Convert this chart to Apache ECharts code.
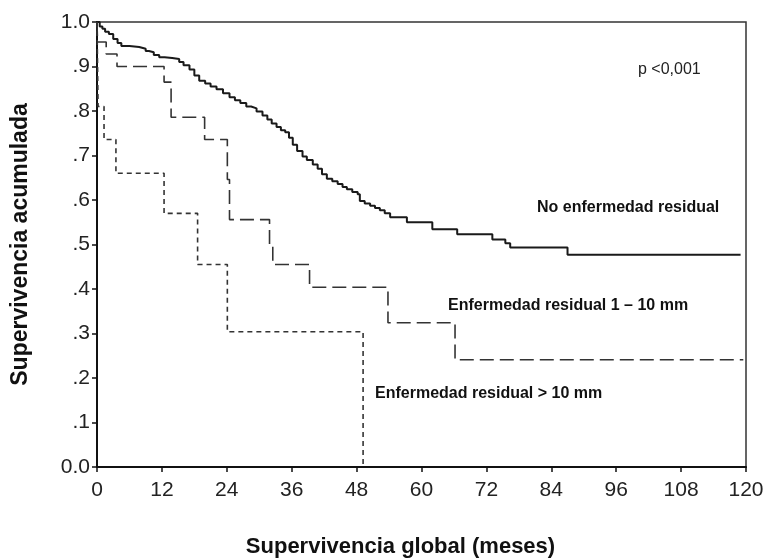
<!DOCTYPE html>
<html>
<head>
<meta charset="utf-8">
<script src="https://cdn.jsdelivr.net/npm/echarts@6/dist/echarts.min.js"></script>
<style>
  html, body { margin: 0; padding: 0; background: #fff; }
  #main { width: 766px; height: 558px; }
</style>
</head>
<body>
<div id="main"></div>
<script>
// curva Kaplan-Meier: [mes, supervivencia]
var sinResidual = [
    [0, 1.0], [0.5, 0.99], [1, 0.985], [1.5, 0.978], [2.2, 0.973], [3, 0.962],
    [3.8, 0.953], [4.5, 0.946], [6, 0.944], [7.8, 0.94], [9, 0.935], [9.6, 0.932],
    [10.5, 0.926], [11.5, 0.921], [12.5, 0.919], [13.9, 0.917], [15.2, 0.91],
    [16, 0.903], [17.1, 0.893], [18, 0.88], [18.9, 0.868], [20, 0.862], [21, 0.855],
    [22.1, 0.849], [23.3, 0.84], [24.5, 0.831], [25.5, 0.824], [26.5, 0.818],
    [27.6, 0.81], [28.5, 0.806], [29.5, 0.799], [30.6, 0.79], [31.5, 0.781],
    [32.3, 0.772], [33.2, 0.764], [34, 0.757], [34.8, 0.752], [35.5, 0.74],
    [36.2, 0.724], [37, 0.71], [38, 0.698], [38.8, 0.69], [39.9, 0.68], [40.8, 0.67],
    [41.6, 0.658], [42.5, 0.648], [43.5, 0.642], [44.5, 0.636], [45.4, 0.629],
    [46.2, 0.624], [47.2, 0.618], [48.2, 0.613], [48.6, 0.598], [49.5, 0.592],
    [50.5, 0.587], [51.4, 0.582], [52.3, 0.577], [53.2, 0.57], [54.2, 0.561],
    [57.3, 0.55], [62, 0.534], [66.6, 0.523], [73.1, 0.511], [75.5, 0.503],
    [76.4, 0.493], [87, 0.477], [119, 0.477]
];
var residual1a10 = [
    [0, 1.0], [0.1, 0.955], [1.7, 0.928], [3.7, 0.90], [12.4, 0.865], [13.7, 0.786],
    [19.9, 0.736], [24.1, 0.646], [24.5, 0.556], [31.9, 0.5], [32.5, 0.455],
    [39.3, 0.404], [53.8, 0.324], [66.2, 0.241], [119.5, 0.241]
];
var residualMas10 = [
    [0, 1.0], [0.2, 0.81], [1.3, 0.736], [3.5, 0.66], [12.4, 0.57], [18.6, 0.455],
    [24.1, 0.304], [49.2, 0.0]
];
var xTicks = [0, 12, 24, 36, 48, 60, 72, 84, 96, 108, 120];
var yTickLabels = ['0.0', '.1', '.2', '.3', '.4', '.5', '.6', '.7', '.8', '.9', '1.0'];

var sans = "'Liberation Sans', Arial, sans-serif";

var myChart = echarts.init(document.getElementById('main'));
myChart.setOption({
    animation: false,
    backgroundColor: '#fff',
    grid: {
        left: 97, top: 22, right: 20, bottom: 91,
        outerBoundsMode: 'none',
        containLabel: false,
        show: true,
        borderColor: '#333',
        borderWidth: 1.5
    },
    xAxis: {
        type: 'value',
        min: 0, max: 120, interval: 12,
        name: 'Supervivencia global (meses)',
        nameLocation: 'middle',
        nameGap: 69,
        nameTextStyle: { fontFamily: sans, fontWeight: 'bold', fontSize: 22, color: '#111', padding: [0, 42, 0, 0] },
        axisLine: { lineStyle: { color: '#111', width: 2 } },
        axisTick: { show: true, length: 5, lineStyle: { color: '#111', width: 1.5 } },
        axisLabel: {
            fontFamily: sans, fontSize: 21, color: '#222', margin: 13,
            formatter: function (v) { return xTicks.indexOf(v) >= 0 ? String(v) : ''; }
        },
        splitLine: { show: false }
    },
    yAxis: {
        type: 'value',
        min: 0, max: 1, interval: 0.1,
        name: 'Supervivencia acumulada',
        nameLocation: 'middle',
        nameGap: 65,
        nameTextStyle: { fontFamily: sans, fontWeight: 'bold', fontSize: 23, color: '#111' },
        axisLine: { show: true, lineStyle: { color: '#111', width: 2 } },
        axisTick: { show: true, length: 5, lineStyle: { color: '#111', width: 1.5 } },
        axisLabel: {
            fontFamily: sans, fontSize: 21, color: '#222', margin: 7,
            formatter: function (v) { return yTickLabels[Math.round(v * 10)]; }
        },
        splitLine: { show: false }
    },
    series: [
        {
            name: 'No enfermedad residual',
            type: 'line',
            step: 'end',
            symbol: 'none',
            data: sinResidual,
            lineStyle: { color: '#1a1a1a', width: 2 }
        },
        {
            name: 'Enfermedad residual 1 – 10 mm',
            type: 'line',
            step: 'end',
            symbol: 'none',
            data: residual1a10,
            lineStyle: { color: '#333', width: 1.6, type: [14, 6] }
        },
        {
            name: 'Enfermedad residual > 10 mm',
            type: 'line',
            step: 'end',
            symbol: 'none',
            data: residualMas10,
            lineStyle: { color: '#333', width: 1.6, type: [5, 4] }
        }
    ],
    graphic: [
        { type: 'text', left: 638, top: 62, style: { text: 'p <0,001', fontFamily: sans, fontSize: 16, fill: '#222' } },
        { type: 'text', left: 537, top: 200, style: { text: 'No enfermedad residual', fontFamily: sans, fontWeight: 'bold', fontSize: 16, fill: '#111' } },
        { type: 'text', left: 448, top: 298, style: { text: 'Enfermedad residual 1 – 10 mm', fontFamily: sans, fontWeight: 'bold', fontSize: 16, fill: '#111' } },
        { type: 'text', left: 375, top: 386, style: { text: 'Enfermedad residual > 10 mm', fontFamily: sans, fontWeight: 'bold', fontSize: 16, fill: '#111' } }
    ]
});
</script>
</body>
</html>
